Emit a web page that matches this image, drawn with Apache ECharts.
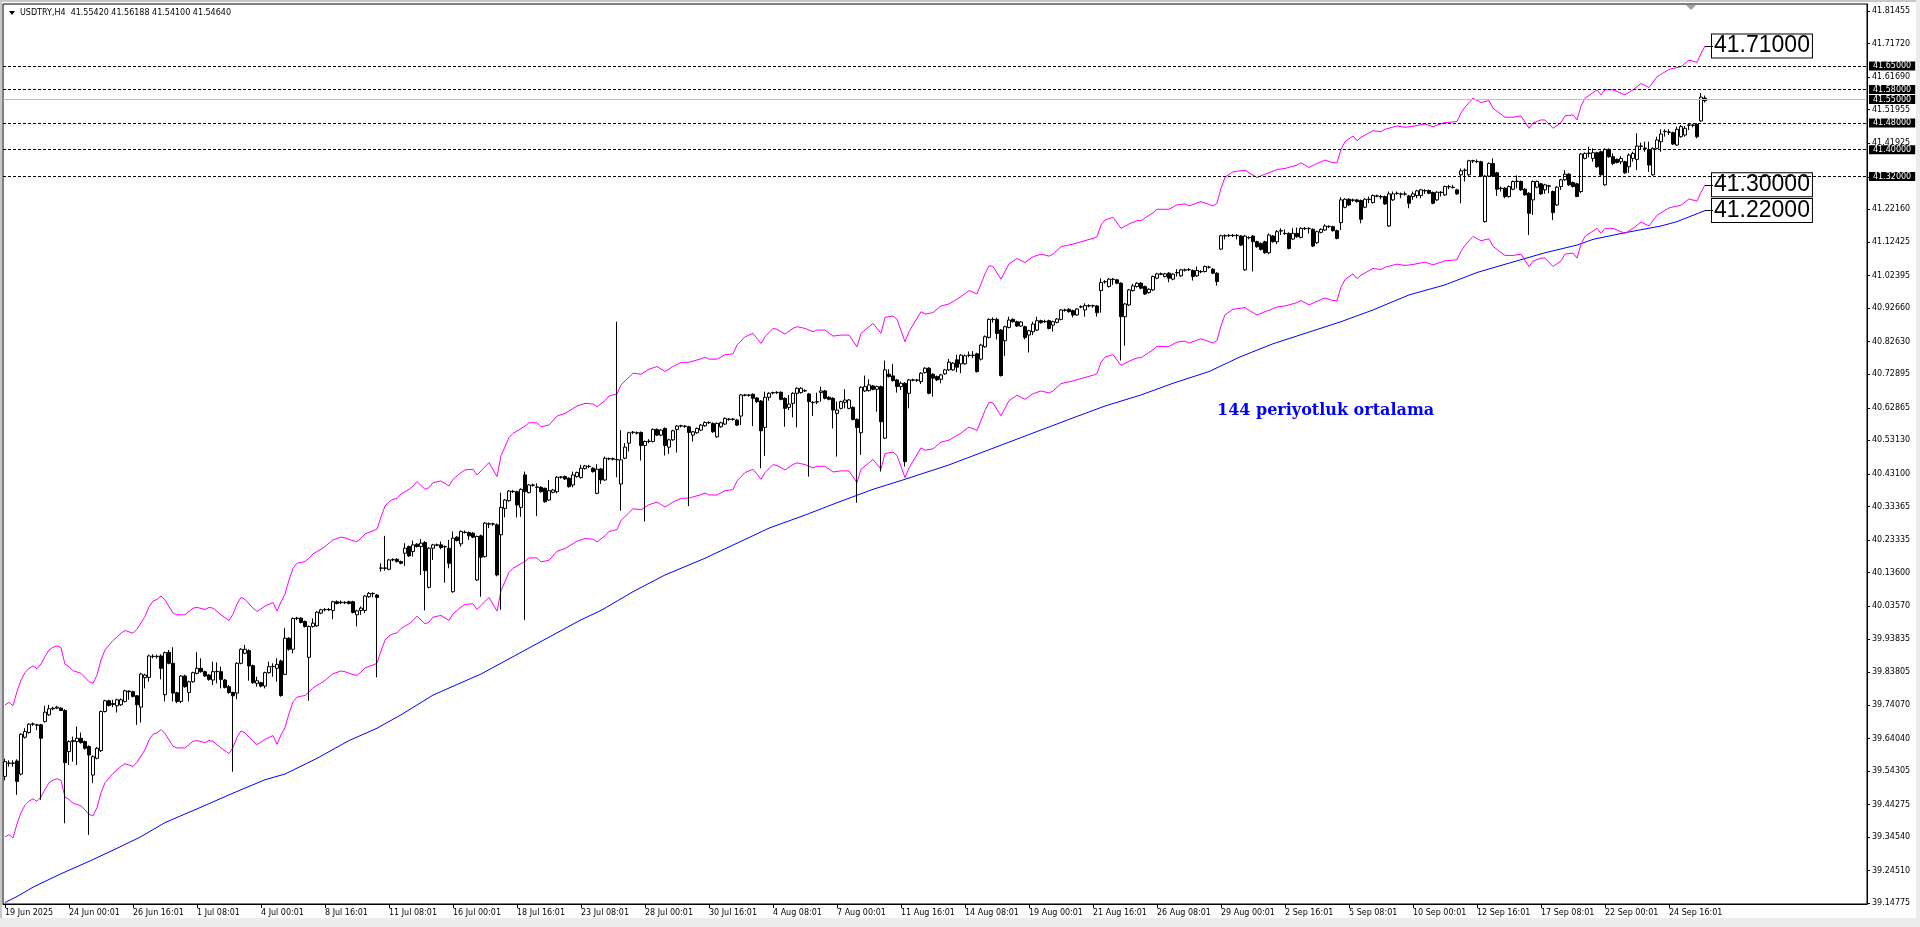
<!DOCTYPE html>
<html><head><meta charset="utf-8">
<script src="https://cdn.jsdelivr.net/npm/echarts@6/dist/echarts.min.js"></script>
<style>html,body{margin:0;padding:0;background:#fff;overflow:hidden}#c{width:1920px;height:927px}</style>
</head><body><div id="c"></div>
<script>
// ---------- data ----------
const symbolTitle = 'USDTRY,H4  41.55420 41.56188 41.54100 41.54640';
const annotationText = '144 periyotluk ortalama';
const xTickLabels = ['19 Jun 2025','24 Jun 00:01','26 Jun 16:01','1 Jul 08:01','4 Jul 00:01','8 Jul 16:01','11 Jul 08:01','16 Jul 00:01','18 Jul 16:01','23 Jul 08:01','28 Jul 00:01','30 Jul 16:01','4 Aug 08:01','7 Aug 00:01','11 Aug 16:01','14 Aug 08:01','19 Aug 00:01','21 Aug 16:01','26 Aug 08:01','29 Aug 00:01','2 Sep 16:01','5 Sep 08:01','10 Sep 00:01','12 Sep 16:01','17 Sep 08:01','22 Sep 00:01','24 Sep 16:01'];
const barsPerTick = 16;
const emptySlotsRight = 40;
const yTickValues = [39.14775,39.24510,39.34540,39.44275,39.54305,39.64040,39.74070,39.83805,39.93835,40.03570,40.13600,40.23335,40.33365,40.43100,40.53130,40.62865,40.72895,40.82630,40.92660,41.02395,41.12425,41.22160,41.31895,41.41925,41.51955,41.61690,41.71720,41.81455];
const yMin = 39.14564, yMax = 41.8355;
const priceLevels = [41.65, 41.58, 41.48, 41.40, 41.32];
const lastPrice = 41.5464;
const bandLabels = ['41.71000', '41.30000', '41.22000'];

// [open, high, low, close]
const ohlc = [
[39.527,39.580,39.515,39.571],[39.566,39.575,39.556,39.567],[39.567,39.575,39.556,39.566],[39.573,39.578,39.472,39.512],[39.534,39.656,39.530,39.653],[39.644,39.671,39.640,39.661],[39.658,39.686,39.655,39.683],[39.683,39.688,39.678,39.684],[39.681,39.684,39.665,39.680],[39.681,39.684,39.457,39.641],
[39.691,39.738,39.688,39.719],[39.711,39.741,39.708,39.729],[39.729,39.735,39.725,39.731],[39.731,39.738,39.728,39.734],[39.731,39.734,39.722,39.724],[39.724,39.728,39.387,39.568],[39.601,39.635,39.561,39.631],[39.631,39.646,39.571,39.634],[39.631,39.676,39.561,39.641],[39.641,39.658,39.625,39.628],
[39.631,39.634,39.607,39.611],[39.616,39.620,39.352,39.591],[39.531,39.590,39.507,39.586],[39.581,39.615,39.578,39.611],[39.604,39.724,39.600,39.721],[39.721,39.756,39.718,39.753],[39.753,39.756,39.736,39.739],[39.742,39.756,39.734,39.745],[39.738,39.759,39.718,39.756],[39.741,39.760,39.738,39.756],
[39.751,39.786,39.748,39.783],[39.782,39.784,39.756,39.780],[39.780,39.783,39.763,39.766],[39.768,39.770,39.681,39.741],[39.734,39.837,39.688,39.833],[39.822,39.834,39.790,39.830],[39.823,39.891,39.810,39.887],[39.886,39.892,39.880,39.885],[39.885,39.891,39.879,39.886],[39.887,39.892,39.817,39.850],
[39.771,39.900,39.751,39.897],[39.898,39.905,39.862,39.865],[39.865,39.913,39.751,39.776],[39.777,39.780,39.746,39.751],[39.751,39.830,39.746,39.827],[39.827,39.831,39.792,39.795],[39.778,39.813,39.751,39.810],[39.810,39.840,39.807,39.837],[39.835,39.898,39.832,39.850],[39.850,39.880,39.837,39.840],
[39.840,39.843,39.824,39.827],[39.830,39.833,39.813,39.817],[39.815,39.870,39.800,39.840],[39.840,39.868,39.805,39.841],[39.840,39.855,39.790,39.817],[39.815,39.818,39.790,39.793],[39.795,39.800,39.774,39.778],[39.778,39.780,39.541,39.768],[39.776,39.868,39.758,39.865],[39.865,39.910,39.862,39.907],
[39.895,39.920,39.892,39.907],[39.903,39.907,39.813,39.857],[39.858,39.861,39.804,39.807],[39.805,39.825,39.795,39.813],[39.807,39.810,39.793,39.797],[39.797,39.840,39.790,39.837],[39.837,39.870,39.834,39.855],[39.855,39.865,39.825,39.856],[39.850,39.880,39.810,39.862],[39.872,39.876,39.765,39.769],
[39.832,39.970,39.830,39.940],[39.940,39.943,39.903,39.907],[39.907,40.002,39.895,39.999],[39.999,40.004,39.994,40.000],[40.000,40.003,39.984,39.987],[39.990,39.993,39.972,39.975],[39.883,39.978,39.753,39.975],[39.975,39.999,39.972,39.985],[39.977,40.021,39.974,40.018],[40.015,40.028,40.012,40.025],
[40.025,40.030,40.020,40.026],[40.026,40.030,40.021,40.025],[40.023,40.052,39.997,40.049],[40.049,40.053,40.041,40.044],[40.046,40.053,40.042,40.048],[40.047,40.051,40.042,40.046],[40.049,40.052,40.041,40.044],[40.049,40.052,40.014,40.017],[40.010,40.025,39.975,40.022],[40.023,40.035,40.010,40.030],
[40.023,40.069,40.015,40.066],[40.064,40.078,40.061,40.074],[40.074,40.077,40.062,40.073],[40.069,40.072,39.823,40.062],[40.149,40.164,40.139,40.150],[40.150,40.246,40.142,40.149],[40.146,40.177,40.143,40.174],[40.174,40.179,40.170,40.175],[40.176,40.179,40.166,40.169],[40.169,40.172,40.161,40.164],
[40.194,40.224,40.156,40.209],[40.214,40.217,40.183,40.186],[40.199,40.232,40.184,40.219],[40.221,40.224,40.211,40.214],[40.214,40.236,40.129,40.224],[40.226,40.230,40.023,40.142],[40.092,40.212,40.089,40.209],[40.209,40.222,40.174,40.219],[40.219,40.223,40.215,40.218],[40.219,40.229,40.206,40.211],
[40.213,40.217,40.106,40.214],[40.209,40.234,40.149,40.164],[40.079,40.259,40.076,40.239],[40.242,40.245,40.229,40.232],[40.222,40.262,40.214,40.259],[40.257,40.262,40.253,40.256],[40.256,40.259,40.234,40.246],[40.254,40.257,40.239,40.242],[40.114,40.247,40.111,40.244],[40.246,40.250,40.064,40.182],
[40.184,40.287,40.181,40.284],[40.282,40.286,40.269,40.281],[40.281,40.285,40.276,40.282],[40.279,40.283,40.125,40.129],[40.249,40.375,40.025,40.331],[40.328,40.356,40.301,40.353],[40.351,40.383,40.348,40.380],[40.379,40.383,40.374,40.378],[40.378,40.381,40.301,40.338],[40.331,40.388,40.303,40.385],
[40.428,40.438,39.995,40.378],[40.375,40.401,40.373,40.398],[40.398,40.402,40.393,40.397],[40.392,40.403,40.305,40.391],[40.391,40.394,40.375,40.378],[40.388,40.390,40.345,40.348],[40.353,40.413,40.350,40.381],[40.376,40.386,40.373,40.383],[40.378,40.425,40.373,40.421],[40.421,40.425,40.417,40.422],
[40.423,40.426,40.413,40.416],[40.418,40.421,40.390,40.393],[40.398,40.438,40.391,40.428],[40.423,40.438,40.420,40.435],[40.420,40.458,40.417,40.448],[40.447,40.458,40.444,40.455],[40.454,40.458,40.449,40.453],[40.448,40.451,40.435,40.438],[40.373,40.460,40.370,40.445],[40.446,40.449,40.401,40.413],
[40.413,40.483,40.410,40.478],[40.476,40.480,40.472,40.477],[40.477,40.480,40.471,40.475],[40.474,40.886,40.421,40.473],[40.401,40.562,40.321,40.473],[40.478,40.523,40.475,40.511],[40.523,40.557,40.498,40.554],[40.555,40.559,40.550,40.556],[40.554,40.558,40.549,40.553],[40.555,40.558,40.471,40.516],
[40.516,40.531,40.289,40.528],[40.528,40.535,40.523,40.529],[40.528,40.567,40.525,40.564],[40.564,40.567,40.544,40.547],[40.547,40.565,40.544,40.562],[40.567,40.570,40.486,40.516],[40.511,40.536,40.491,40.533],[40.533,40.563,40.530,40.560],[40.564,40.577,40.495,40.574],[40.574,40.578,40.570,40.575],
[40.574,40.577,40.569,40.573],[40.572,40.575,40.335,40.555],[40.547,40.560,40.528,40.557],[40.554,40.570,40.551,40.567],[40.562,40.580,40.559,40.577],[40.575,40.588,40.572,40.585],[40.584,40.588,40.580,40.585],[40.582,40.585,40.554,40.557],[40.542,40.585,40.539,40.582],[40.572,40.587,40.569,40.584],
[40.580,40.600,40.577,40.597],[40.594,40.598,40.590,40.595],[40.595,40.598,40.590,40.594],[40.592,40.595,40.574,40.577],[40.604,40.670,40.577,40.667],[40.667,40.670,40.663,40.666],[40.666,40.670,40.662,40.667],[40.669,40.672,40.574,40.657],[40.658,40.660,40.643,40.647],[40.649,40.652,40.448,40.560],
[40.570,40.677,40.485,40.660],[40.660,40.675,40.650,40.672],[40.673,40.677,40.669,40.674],[40.674,40.678,40.670,40.675],[40.675,40.678,40.651,40.654],[40.657,40.660,40.572,40.627],[40.630,40.667,40.622,40.640],[40.642,40.675,40.600,40.672],[40.672,40.690,40.570,40.687],[40.674,40.690,40.671,40.687],
[40.680,40.684,40.676,40.679],[40.670,40.673,40.423,40.647],[40.645,40.649,40.604,40.644],[40.646,40.674,40.640,40.647],[40.674,40.692,40.647,40.679],[40.679,40.682,40.654,40.657],[40.660,40.663,40.651,40.654],[40.657,40.660,40.567,40.622],[40.612,40.647,40.483,40.622],[40.627,40.650,40.624,40.647],
[40.645,40.684,40.627,40.652],[40.627,40.655,40.624,40.652],[40.630,40.633,40.591,40.594],[40.594,40.597,40.345,40.570],[40.554,40.693,40.488,40.690],[40.679,40.725,40.676,40.692],[40.680,40.714,40.677,40.697],[40.694,40.697,40.681,40.684],[40.684,40.695,40.617,40.692],[40.692,40.695,40.438,40.587],
[40.538,40.770,40.535,40.742],[40.729,40.744,40.719,40.722],[40.724,40.760,40.707,40.710],[40.712,40.715,40.674,40.692],[40.692,40.707,40.682,40.702],[40.702,40.705,40.453,40.468],[40.672,40.715,40.627,40.712],[40.712,40.716,40.708,40.711],[40.711,40.715,40.706,40.712],[40.707,40.735,40.700,40.732],
[40.734,40.750,40.731,40.747],[40.747,40.750,40.669,40.672],[40.729,40.732,40.662,40.717],[40.722,40.725,40.709,40.712],[40.714,40.730,40.702,40.727],[40.730,40.745,40.727,40.742],[40.742,40.775,40.739,40.765],[40.742,40.765,40.739,40.762],[40.772,40.787,40.735,40.750],[40.760,40.789,40.732,40.786],
[40.760,40.788,40.757,40.784],[40.785,40.797,40.780,40.786],[40.786,40.798,40.777,40.785],[40.790,40.793,40.734,40.737],[40.774,40.820,40.770,40.816],[40.811,40.845,40.808,40.841],[40.839,40.896,40.836,40.893],[40.893,40.899,40.883,40.892],[40.893,40.898,40.833,40.851],[40.861,40.864,40.722,40.725],
[40.829,40.874,40.784,40.871],[40.869,40.901,40.866,40.891],[40.893,40.896,40.883,40.886],[40.886,40.889,40.870,40.873],[40.873,40.888,40.870,40.885],[40.871,40.874,40.833,40.839],[40.846,40.862,40.794,40.859],[40.856,40.886,40.846,40.879],[40.861,40.901,40.858,40.889],[40.889,40.892,40.880,40.883],
[40.886,40.892,40.882,40.887],[40.889,40.892,40.863,40.866],[40.876,40.889,40.856,40.886],[40.884,40.897,40.881,40.894],[40.893,40.924,40.890,40.921],[40.921,40.925,40.916,40.920],[40.923,40.926,40.913,40.916],[40.919,40.922,40.899,40.906],[40.906,40.927,40.903,40.924],[40.930,40.935,40.926,40.931],
[40.921,40.941,40.901,40.934],[40.934,40.938,40.929,40.933],[40.933,40.937,40.928,40.934],[40.933,40.936,40.901,40.913],[40.979,41.016,40.913,41.003],[41.005,41.010,41.000,41.006],[40.991,41.016,40.988,41.013],[41.013,41.017,40.996,41.012],[41.011,41.014,40.998,41.001],[41.001,41.004,40.770,40.901],
[40.901,40.942,40.814,40.939],[40.936,40.984,40.933,40.981],[40.979,40.999,40.976,40.993],[40.991,41.004,40.988,41.001],[41.001,41.004,40.983,40.986],[40.991,40.994,40.966,40.969],[40.973,40.986,40.970,40.983],[40.981,41.024,40.978,41.021],[41.016,41.032,41.013,41.029],[41.029,41.033,41.025,41.028],
[41.021,41.032,41.018,41.029],[41.031,41.034,41.004,41.016],[41.013,41.031,41.010,41.028],[41.032,41.043,41.021,41.033],[41.023,41.044,41.020,41.041],[41.041,41.045,41.036,41.040],[41.041,41.046,41.037,41.042],[41.039,41.042,41.009,41.021],[41.023,41.051,41.020,41.039],[41.036,41.040,41.031,41.035],
[41.036,41.054,41.033,41.051],[41.049,41.053,41.045,41.049],[41.043,41.046,41.028,41.031],[41.031,41.034,40.994,41.006],[41.103,41.146,41.100,41.143],[41.143,41.147,41.132,41.142],[41.143,41.148,41.139,41.144],[41.144,41.148,41.139,41.143],[41.143,41.148,41.132,41.144],[41.142,41.145,41.112,41.115],
[41.041,41.145,41.038,41.142],[41.137,41.141,41.132,41.138],[41.142,41.145,41.036,41.125],[41.125,41.128,41.107,41.110],[41.120,41.123,41.099,41.102],[41.125,41.128,41.089,41.092],[41.092,41.150,41.088,41.145],[41.142,41.145,41.122,41.125],[41.125,41.160,41.118,41.155],[41.158,41.165,41.145,41.157],
[41.150,41.162,41.146,41.149],[41.150,41.153,41.102,41.105],[41.133,41.165,41.130,41.150],[41.150,41.167,41.137,41.140],[41.138,41.168,41.135,41.165],[41.165,41.169,41.160,41.164],[41.164,41.168,41.150,41.165],[41.162,41.165,41.109,41.112],[41.122,41.158,41.118,41.155],[41.153,41.165,41.150,41.162],
[41.160,41.177,41.157,41.172],[41.170,41.174,41.166,41.171],[41.170,41.173,41.155,41.158],[41.158,41.161,41.132,41.135],[41.182,41.258,41.160,41.250],[41.228,41.255,41.225,41.252],[41.252,41.255,41.232,41.235],[41.250,41.254,41.244,41.249],[41.250,41.253,41.242,41.245],[41.248,41.251,41.180,41.192],
[41.228,41.255,41.225,41.252],[41.252,41.260,41.240,41.251],[41.242,41.266,41.239,41.263],[41.262,41.266,41.258,41.261],[41.260,41.265,41.252,41.259],[41.260,41.263,41.235,41.238],[41.172,41.275,41.169,41.268],[41.250,41.275,41.247,41.268],[41.269,41.275,41.265,41.270],[41.268,41.272,41.255,41.267],
[41.267,41.275,41.263,41.268],[41.262,41.265,41.225,41.240],[41.260,41.275,41.250,41.268],[41.263,41.280,41.255,41.277],[41.263,41.283,41.255,41.280],[41.278,41.282,41.268,41.277],[41.278,41.281,41.267,41.270],[41.272,41.275,41.237,41.240],[41.250,41.276,41.247,41.273],[41.272,41.276,41.260,41.273],
[41.265,41.293,41.262,41.290],[41.290,41.295,41.282,41.289],[41.288,41.295,41.284,41.287],[41.280,41.283,41.265,41.268],[41.325,41.344,41.240,41.337],[41.338,41.344,41.305,41.339],[41.325,41.370,41.322,41.367],[41.367,41.370,41.360,41.366],[41.365,41.371,41.360,41.364],[41.364,41.367,41.318,41.321],
[41.185,41.324,41.182,41.321],[41.321,41.362,41.318,41.359],[41.359,41.374,41.318,41.321],[41.331,41.334,41.262,41.282],[41.285,41.290,41.275,41.284],[41.285,41.288,41.255,41.260],[41.260,41.293,41.257,41.290],[41.282,41.308,41.279,41.305],[41.305,41.323,41.285,41.306],[41.305,41.308,41.277,41.280],
[41.282,41.285,41.263,41.265],[41.270,41.273,41.145,41.210],[41.250,41.308,41.205,41.305],[41.288,41.308,41.285,41.305],[41.298,41.301,41.265,41.268],[41.280,41.298,41.268,41.295],[41.292,41.295,41.270,41.291],[41.275,41.278,41.190,41.212],[41.235,41.291,41.232,41.288],[41.290,41.313,41.280,41.310],
[41.310,41.339,41.307,41.327],[41.327,41.330,41.292,41.295],[41.302,41.305,41.287,41.290],[41.298,41.301,41.258,41.260],[41.275,41.390,41.270,41.387],[41.374,41.392,41.371,41.389],[41.389,41.409,41.377,41.390],[41.374,41.404,41.364,41.391],[41.391,41.394,41.346,41.349],[41.394,41.397,41.322,41.325],
[41.295,41.404,41.292,41.401],[41.401,41.404,41.376,41.379],[41.379,41.389,41.354,41.359],[41.371,41.374,41.359,41.362],[41.364,41.381,41.357,41.374],[41.364,41.367,41.328,41.331],[41.349,41.389,41.331,41.384],[41.374,41.394,41.364,41.389],[41.371,41.449,41.339,41.411],[41.411,41.421,41.399,41.410],
[41.405,41.424,41.394,41.404],[41.401,41.424,41.334,41.354],[41.325,41.407,41.322,41.404],[41.404,41.439,41.401,41.429],[41.424,41.461,41.394,41.447],[41.454,41.461,41.439,41.455],[41.453,41.461,41.444,41.452],[41.451,41.454,41.414,41.417],[41.414,41.469,41.411,41.461],[41.439,41.474,41.436,41.469],
[41.444,41.471,41.439,41.464],[41.473,41.477,41.459,41.474],[41.474,41.477,41.467,41.473],[41.476,41.479,41.434,41.439],[41.486,41.569,41.483,41.557],[41.5542,41.56188,41.541,41.5464]
];

// envelope lines (bar index, value) read at their corners
const upperBand = [[0,39.741],[1,39.748],[2,39.738],[3,39.781],[4,39.815],[5,39.837],[6,39.850],[7,39.857],[8,39.849],[9,39.863],[10,39.885],[11,39.905],[12,39.913],[13,39.917],[14,39.912],[15,39.862],[16,39.855],[17,39.843],[19,39.835],[21,39.810],[22,39.805],[23,39.830],[24,39.875],[25,39.905],[27,39.933],[29,39.955],[30,39.963],[32,39.955],[33,39.967],[35,40.005],[36,40.034],[37,40.051],[38,40.056],[39,40.066],[40,40.054],[42,40.015],[43,40.010],[45,40.010],[47,40.030],[48,40.032],[50,40.026],[51,40.032],[52,40.030],[54,40.010],[56,39.993],[57,40.012],[58,40.042],[59,40.062],[60,40.056],[62,40.030],[63,40.020],[65,40.036],[67,40.047],[68,40.021],[69,40.049],[70,40.072],[71,40.114],[72,40.149],[73,40.164],[75,40.169],[76,40.179],[77,40.192],[79,40.206],[80,40.214],[81,40.224],[82,40.234],[84,40.242],[85,40.240],[87,40.231],[88,40.229],[89,40.239],[90,40.252],[92,40.261],[93,40.266],[94,40.303],[95,40.335],[96,40.348],[97,40.355],[98,40.358],[99,40.371],[101,40.385],[102,40.395],[103,40.408],[105,40.385],[106,40.390],[107,40.405],[109,40.410],[111,40.395],[112,40.415],[113,40.425],[114,40.435],[115,40.443],[117,40.445],[118,40.428],
[119,40.440],[121,40.465],[123,40.423],[124,40.485],[126,40.540],[127,40.552],[130,40.574],[131,40.584],[133,40.584],[134,40.572],[136,40.577],[138,40.604],[140,40.612],[143,40.634],[145,40.642],[147,40.640],[148,40.632],[150,40.650],[151,40.664],[153,40.670],[154,40.697],[157,40.732],[159,40.729],[161,40.744],[163,40.752],[165,40.737],[167,40.752],[169,40.764],[171,40.765],[174,40.775],[175,40.780],[176,40.774],[178,40.774],[180,40.787],[182,40.790],[183,40.816],[185,40.841],[187,40.851],[189,40.821],[190,40.841],[192,40.866],[193,40.863],[195,40.849],[197,40.866],[198,40.871],[200,40.866],[202,40.856],[203,40.861],[205,40.861],[207,40.843],[209,40.846],[211,40.846],[213,40.811],[214,40.851],[217,40.881],[219,40.851],[220,40.899],[222,40.903],[223,40.893],[225,40.826],[226,40.856],[229,40.916],[230,40.909],[232,40.913],[234,40.933],[236,40.939],
[237,40.946],[239,40.961],[241,40.979],[243,40.969],[245,41.029],[246,41.053],[247,41.051],[249,41.013],[251,41.059],[253,41.075],[255,41.063],[257,41.080],[259,41.088],[261,41.082],[262,41.088],[264,41.110],[267,41.118],[269,41.125],[272,41.135],[273,41.140],[274,41.175],[275,41.190],[277,41.198],[279,41.165],[281,41.178],[283,41.188],[284,41.188],[287,41.212],[288,41.222],[291,41.222],[293,41.235],[295,41.238],[296,41.232],[299,41.245],[302,41.232],[303,41.240],[304,41.285],[305,41.318],[307,41.334],[310,41.339],[311,41.331],[313,41.317],[315,41.327],[316,41.331],[318,41.341],[320,41.344],[323,41.354],[324,41.361],[326,41.347],[328,41.359],[330,41.369],[332,41.361],[333,41.361],[334,41.401],[335,41.424],[337,41.441],[338,41.427],[339,41.437],[342,41.457],[344,41.454],[345,41.461],[348,41.471],[350,41.467],
[352,41.470],[355,41.477],[357,41.469],[360,41.481],[363,41.484],[364,41.510],[365,41.527],[367,41.554],[369,41.541],[371,41.547],[372,41.524],[375,41.497],[377,41.497],[379,41.501],[381,41.464],[382,41.480],[384,41.489],[385,41.489],[387,41.464],[389,41.481],[390,41.501],[392,41.504],[393,41.489],[394,41.530],[395,41.554],[398,41.579],[399,41.564],[400,41.579],[402,41.579],[405,41.564],[407,41.579],[409,41.598],[411,41.586],[413,41.618],[416,41.640],[417,41.643],[419,41.648],[421,41.668],[423,41.661],[424,41.688],[425,41.710]];

const lowerBand = [[0,39.346],[1,39.353],[2,39.343],[3,39.385],[4,39.419],[5,39.441],[6,39.453],[7,39.460],[8,39.452],[9,39.466],[10,39.488],[11,39.508],[12,39.516],[13,39.520],[14,39.515],[15,39.465],[16,39.458],[17,39.447],[19,39.439],[21,39.414],[22,39.409],[23,39.434],[24,39.478],[25,39.508],[27,39.536],[29,39.557],[30,39.565],[32,39.557],[33,39.569],[35,39.607],[36,39.636],[37,39.653],[38,39.657],[39,39.667],[40,39.655],[42,39.617],[43,39.612],[45,39.612],[47,39.632],[48,39.634],[50,39.628],[51,39.634],[52,39.632],[54,39.612],[56,39.595],[57,39.614],[58,39.644],[59,39.663],[60,39.657],[62,39.632],[63,39.622],[65,39.638],[67,39.649],[68,39.623],[69,39.651],[70,39.673],[71,39.715],[72,39.750],[73,39.764],[75,39.769],[76,39.779],[77,39.792],[79,39.806],[80,39.814],[81,39.824],[82,39.834],[84,39.842],[85,39.840],[87,39.831],[88,39.829],[89,39.839],[90,39.851],[92,39.860],[93,39.865],[94,39.902],[95,39.934],[96,39.947],[97,39.953],[98,39.956],[99,39.969],[101,39.983],[102,39.993],[103,40.006],[105,39.983],[106,39.988],[107,40.003],[109,40.008],[111,39.993],[112,40.013],[113,40.023],[114,40.033],[115,40.041],[117,40.043],[118,40.026],
[119,40.038],[121,40.062],[123,40.021],[124,40.082],[126,40.137],[127,40.149],[130,40.170],[131,40.180],[133,40.180],[134,40.168],[136,40.173],[138,40.200],[140,40.208],[143,40.230],[145,40.238],[147,40.236],[148,40.228],[150,40.246],[151,40.259],[153,40.265],[154,40.292],[157,40.327],[159,40.324],[161,40.339],[163,40.347],[165,40.332],[167,40.347],[169,40.358],[171,40.359],[174,40.369],[175,40.374],[176,40.368],[178,40.368],[180,40.381],[182,40.384],[183,40.410],[185,40.435],[187,40.445],[189,40.415],[190,40.435],[192,40.459],[193,40.456],[195,40.443],[197,40.459],[198,40.464],[200,40.459],[202,40.449],[203,40.454],[205,40.454],[207,40.437],[209,40.440],[211,40.440],[213,40.405],[214,40.445],[217,40.474],[219,40.445],[220,40.492],[222,40.496],[223,40.486],[225,40.420],[226,40.449],[229,40.509],[230,40.502],[232,40.506],[234,40.526],[236,40.532],
[237,40.539],[239,40.553],[241,40.571],[243,40.561],[245,40.621],[246,40.645],[247,40.643],[249,40.605],[251,40.650],[253,40.666],[255,40.654],[257,40.671],[259,40.679],[261,40.673],[262,40.679],[264,40.701],[267,40.709],[269,40.716],[272,40.726],[273,40.731],[274,40.765],[275,40.780],[277,40.788],[279,40.755],[281,40.768],[283,40.778],[284,40.778],[287,40.802],[288,40.812],[291,40.812],[293,40.825],[295,40.828],[296,40.822],[299,40.835],[302,40.822],[303,40.830],[304,40.874],[305,40.907],[307,40.923],[310,40.928],[311,40.920],[313,40.906],[315,40.916],[316,40.920],[318,40.930],[320,40.933],[323,40.943],[324,40.949],[326,40.936],[328,40.947],[330,40.957],[332,40.949],[333,40.949],[334,40.989],[335,41.012],[337,41.029],[338,41.015],[339,41.025],[342,41.045],[344,41.042],[345,41.049],[348,41.058],[350,41.054],
[352,41.057],[355,41.064],[357,41.056],[360,41.068],[363,41.071],[364,41.097],[365,41.114],[367,41.141],[369,41.128],[371,41.134],[372,41.111],[375,41.084],[377,41.084],[379,41.088],[381,41.051],[382,41.067],[384,41.076],[385,41.076],[387,41.051],[389,41.068],[390,41.088],[392,41.091],[393,41.076],[394,41.117],[395,41.141],[398,41.165],[399,41.150],[400,41.165],[402,41.165],[405,41.150],[407,41.165],[409,41.184],[411,41.172],[413,41.204],[416,41.226],[417,41.229],[419,41.234],[421,41.253],[423,41.246],[424,41.273],[425,41.295]];

const ma144 = [[0,39.150],[3,39.168],[7,39.196],[14,39.236],[21,39.273],[28,39.312],[34,39.347],[40,39.389],[49,39.435],[57,39.477],[65,39.517],[70,39.534],[78,39.581],[86,39.634],[93,39.671],[99,39.711],[107,39.770],[119,39.833],[144,39.995],[149,40.023],[157,40.079],[165,40.129],[175,40.179],[183,40.224],[191,40.269],[200,40.308],[208,40.345],[217,40.385],[225,40.415],[236,40.458],[266,40.594],[275,40.634],[284,40.667],[292,40.702],[301,40.737],[309,40.782],[317,40.820],[325,40.851],[334,40.886],[342,40.921],[351,40.966],[360,40.996],[368,41.033],[376,41.061],[385,41.092],[393,41.115],[397,41.132],[405,41.152],[414,41.172],[418,41.185],[425,41.218]];

// ---------- chart ----------
const totalSlots = ohlc.length + emptySlotsRight;
const categories = Array.from({length: totalSlots}, (_, i) => String(i));
const lastIdx = ohlc.length - 1;
const isTick = (idx) => idx % barsPerTick === 0 && idx / barsPerTick < xTickLabels.length;
const smallFont = 'DejaVu Sans';

const bigLabel = {
  show: true, color: '#000', fontSize: 23, lineHeight: 22,
  fontFamily: '"Liberation Sans Narrow","Liberation Sans",Arial',
  backgroundColor: '#fff', borderColor: '#000', borderWidth: 1,
  padding: [1, 2, 0, 2], distance: 7
};
function connector(v) {
  return {
    silent: true, symbol: ['none', 'none'], animation: false,
    label: {show: false},
    lineStyle: {color: '#000', width: 1, type: 'solid'},
    data: [[{coord: [String(lastIdx), v]}, {coord: [String(lastIdx + 2), v]}]]
  };
}
const lastOf = (arr) => arr[arr.length - 1][1];

const chart = echarts.init(document.getElementById('c'), null, {renderer: 'canvas'});
chart.setOption({
  animation: false,
  backgroundColor: '#fff',
  grid: {left: 3, right: 53, top: 4, bottom: 23, show: true, borderColor: '#000', borderWidth: 1, containLabel: false},
  xAxis: {
    type: 'category', data: categories, boundaryGap: true,
    axisLine: {show: true, lineStyle: {color: '#000', width: 1}},
    axisTick: {show: true, alignWithLabel: true, interval: isTick, length: 4, lineStyle: {color: '#000'}},
    axisLabel: {interval: isTick, formatter: (v, idx) => xTickLabels[idx / barsPerTick], align: 'left',
      fontSize: 8, fontFamily: smallFont, color: '#000', margin: 5, hideOverlap: false},
    splitLine: {show: false}
  },
  yAxis: {
    type: 'value', position: 'right', min: yMin, max: yMax, scale: true,
    axisLine: {show: true, lineStyle: {color: '#000', width: 1}},
    axisTick: {show: true, length: 3, lineStyle: {color: '#000'}, customValues: yTickValues},
    axisLabel: {customValues: yTickValues, formatter: v => v.toFixed(5), color: '#000',
      fontSize: 8, fontFamily: smallFont, margin: 5},
    splitLine: {show: false}
  },
  series: [
    {
      type: 'line', name: 'ma', data: ma144, symbol: 'none', z: 3,
      lineStyle: {color: '#0000ff', width: 1}, silent: true,
      endLabel: Object.assign({}, bigLabel, {formatter: bandLabels[2]}),
      markLine: connector(lastOf(ma144))
    },
    {
      type: 'line', name: 'upper', data: upperBand, symbol: 'none', z: 3,
      lineStyle: {color: '#ff00ff', width: 1}, silent: true,
      endLabel: Object.assign({}, bigLabel, {formatter: bandLabels[0]}),
      markLine: connector(lastOf(upperBand))
    },
    {
      type: 'line', name: 'lower', data: lowerBand, symbol: 'none', z: 3,
      lineStyle: {color: '#ff00ff', width: 1}, silent: true,
      endLabel: Object.assign({}, bigLabel, {formatter: bandLabels[1]}),
      markLine: connector(lastOf(lowerBand))
    },
    {
      type: 'candlestick', name: 'USDTRY', z: 4, silent: true,
      data: ohlc.map(([o, h, l, c]) => [o, c, l, h]),
      barWidth: 3,
      itemStyle: {color: '#ffffff', color0: '#000000', borderColor: '#000000', borderColor0: '#000000', borderColorDoji: '#000000', borderWidth: 1},
      markLine: {
        silent: true, symbol: ['none', 'none'], animation: false,
        label: {show: true, position: 'end', distance: 2, formatter: p => Number(p.value).toFixed(5),
          color: '#fff', backgroundColor: '#000', padding: [1, 4, 0, 4], fontSize: 8, fontFamily: smallFont},
        data: priceLevels.map(v => ({yAxis: v, lineStyle: {type: [3, 2], color: '#000', width: 1}}))
          .concat([{yAxis: lastPrice, lineStyle: {type: 'solid', color: '#c0c0c0', width: 1}}])
      }
    }
  ],
  graphic: [
    {type: 'rect', shape: {x: 0, y: 0, width: 1920, height: 2}, style: {fill: '#c8c8c8'}, silent: true},
    {type: 'rect', shape: {x: 0, y: 0, width: 2, height: 927}, style: {fill: '#c8c8c8'}, silent: true},
    {type: 'rect', shape: {x: 0, y: 918, width: 1920, height: 9}, style: {fill: '#ececec'}, silent: true},
    {type: 'rect', shape: {x: 1916, y: 0, width: 4, height: 927}, style: {fill: '#ececec'}, silent: true},
    {type: 'polygon', shape: {points: [[9, 11], [15, 11], [12, 15]]}, style: {fill: '#000'}, silent: true},
    {type: 'text', x: 20, y: 13, silent: true,
      style: {text: symbolTitle, font: '8px "DejaVu Sans"', fill: '#000', align: 'left', verticalAlign: 'middle'}},
    {type: 'polygon', shape: {points: [[1686, 5], [1696, 5], [1691, 10]]}, style: {fill: '#a0a0a0'}, silent: true},
    {type: 'text', x: 1217, y: 411, silent: true,
      style: {text: annotationText, font: 'bold 16px "DejaVu Serif"', fill: '#0000ff', align: 'left', verticalAlign: 'middle'}}
  ]
});
</script>
</body></html>
